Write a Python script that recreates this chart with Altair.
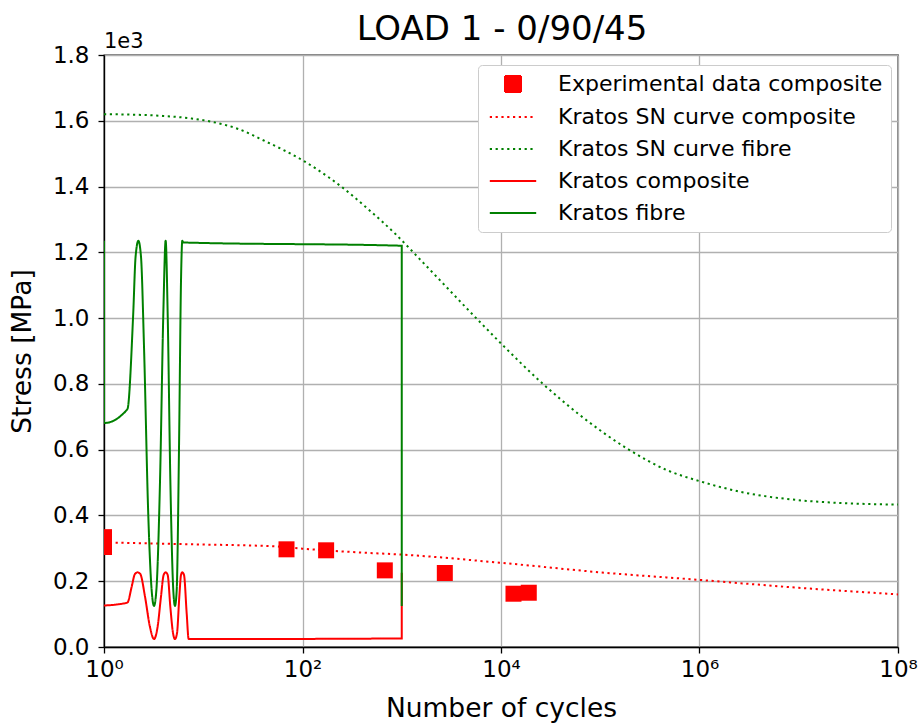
import altair as alt
import pandas as pd

# ---------------- data ----------------
exp_cycles = [1, 1, 69, 173, 675, 2716, 13360, 19050]
exp_stress = [334, 304, 297, 294, 233, 225, 162, 165]

sn_comp_cycles = [1, 8.3, 53, 100, 400, 1000, 1e4, 1e5, 1e6, 1e7, 1e8]
sn_comp_stress = [318, 312, 306, 299, 287, 281, 256, 227, 204, 180, 160]

sn_fib_cycles = [1, 1.76, 3.81, 7.64, 12.2, 22.6, 42, 100, 182, 248, 460, 855, 1650,
                 6140, 1e4, 26700, 62500, 192000, 467000, 1.01e6, 2.77e6, 9.55e6, 3.05e7, 1e8]
sn_fib_stress = [1620, 1619, 1615, 1607, 1597, 1575, 1538, 1480, 1429, 1399, 1331, 1257, 1168,
                 988, 923, 799, 705, 601, 538, 504, 470, 447, 437, 433]

kr_comp_cycles = [1, 1.72, 1.9, 2.05, 2.18, 2.32, 2.59, 2.9, 3.19, 3.47, 3.75, 3.99, 4.18,
                  4.38, 4.66, 4.96, 5.19, 5.44, 5.74, 5.97, 6.15, 6.4, 6.81, 7.13, 1000, 1000]
kr_comp_stress = [126, 135, 183, 222, 227, 222, 153, 62, 24, 62, 153, 219, 227,
                  219, 122, 42, 24, 42, 153, 219, 227, 219, 102, 24, 26, 226]

kr_fib_cycles = [1, 1, 1.72, 1.97, 2.08, 2.22, 2.36, 2.53, 2.79, 3.02, 3.19, 3.37, 3.67,
                 3.96, 4.18, 4.38, 4.66, 4.99, 5.19, 5.4, 5.7, 5.97, 6.15, 6.3, 1000, 1000]
kr_fib_stress = [1235, 681, 723, 1014, 1186, 1235, 1186, 913, 406, 173, 125, 173, 508,
                 1014, 1235, 1014, 508, 173, 125, 173, 609, 1115, 1235, 1230, 1220, 125]

series_names = ["Experimental data composite", "Kratos SN curve composite",
                "Kratos SN curve fibre", "Kratos composite", "Kratos fibre"]
series_colors = ["#ff0000", "#ff0000", "#008000", "#ff0000", "#008000"]
series_dash = [[1, 0], [2.2, 3.6], [2.2, 3.6], [1, 0], [1, 0]]
series_shapes = ["square", "M-2.9,0H2.9", "M-2.9,0H2.9", "M-2.9,0H2.9", "M-2.9,0H2.9"]

x_ticks = [1, 1e2, 1e4, 1e6, 1e8]
x_tick_labels = ["10\u2070", "10\u00b2", "10\u2074", "10\u2076", "10\u2078"]
y_ticks = [0, 200, 400, 600, 800, 1000, 1200, 1400, 1600, 1800]

chart_title = "LOAD 1 - 0/90/45"
y_offset_label = "1e3"

FONT = "DejaVu Sans"
W, H = 794, 592


def frame(xs, ys, name):
    return pd.DataFrame({"N": xs, "S": ys, "series": name, "idx": range(len(xs))})


exp_df = frame(exp_cycles, exp_stress, series_names[0])
sn_df = pd.concat([
    frame(sn_comp_cycles, sn_comp_stress, series_names[1]),
    frame(sn_fib_cycles, sn_fib_stress, series_names[2]),
], ignore_index=True)
kr_comp_df = frame(kr_comp_cycles, kr_comp_stress, series_names[3])
kr_fib_df = frame(kr_fib_cycles, kr_fib_stress, series_names[4])

label_expr = " : ".join(
    f"datum.value == {v:g} ? '{t}'" for v, t in zip(x_ticks, x_tick_labels)
) + " : ''"

x_enc = alt.X("N:Q", scale=alt.Scale(type="log", domain=[1, 1e8], nice=False),
              axis=alt.Axis(values=x_ticks, labelExpr=label_expr, title="Number of cycles",
                            labelFlush=False, labelPadding=5, titlePadding=14))
y_enc = alt.Y("S:Q", scale=alt.Scale(domain=[0, 1800], nice=False),
              axis=alt.Axis(values=y_ticks, labelExpr="format(datum.value/1000, '.1f')",
                            title="Stress [MPa]", labelPadding=9, titlePadding=16))

color_enc = alt.Color("series:N", scale=alt.Scale(domain=series_names, range=series_colors),
                      title=None)
dash_enc = alt.StrokeDash("series:N", scale=alt.Scale(domain=series_names, range=series_dash),
                          title=None)
shape_enc = alt.Shape("series:N", scale=alt.Scale(domain=series_names, range=series_shapes),
                      title=None)

points = alt.Chart(exp_df).mark_point(filled=True, size=256, opacity=1, clip=True).encode(
    x=x_enc, y=y_enc, color=color_enc, shape=shape_enc
)


def line_layer(df):
    return alt.Chart(df).mark_line(strokeWidth=2, clip=True, interpolate="monotone").encode(
        x=x_enc, y=y_enc, color=color_enc, strokeDash=dash_enc,
        detail="series:N", order=alt.Order("idx:Q")
    )


offset_text = alt.Chart(pd.DataFrame({"t": [y_offset_label]})).mark_text(
    align="left", baseline="alphabetic", fontSize=21, font=FONT, color="black"
).encode(x=alt.value(0), y=alt.value(-7), text="t:N")

title_text = alt.Chart(pd.DataFrame({"t": [chart_title]})).mark_text(
    align="center", baseline="alphabetic", fontSize=34, font=FONT, color="black"
).encode(x=alt.value(W / 2 + 1), y=alt.value(-15), text="t:N")

chart = alt.layer(points, line_layer(sn_df), line_layer(kr_comp_df), line_layer(kr_fib_df),
                  offset_text, title_text).properties(
    width=W, height=H,
    autosize=alt.AutoSizeParams(type="none"),
    padding={"left": 104, "top": 55, "right": 24, "bottom": 78},
).configure_view(
    stroke="black", strokeWidth=1.3
).configure_axis(
    labelFont=FONT, titleFont=FONT, labelFontSize=23, titleFontSize=26.5,
    titleFontWeight="normal", labelColor="black", titleColor="black",
    domainColor="black", domainWidth=1.3, tickColor="black", tickWidth=1.3, tickSize=6,
    grid=True, gridColor="#b0b0b0", gridWidth=1.3,
).configure_legend(
    orient="none", legendX=374, legendY=10, labelFont=FONT, labelFontSize=22,
    labelColor="black", fillColor="white", strokeColor="#cccccc", cornerRadius=4,
    padding=8, rowPadding=10, symbolStrokeWidth=2, symbolSize=256, symbolOffset=16,
    labelOffset=34, labelLimit=0,
)

chart.save("out.html", embed_options={"renderer": "svg", "actions": False})
